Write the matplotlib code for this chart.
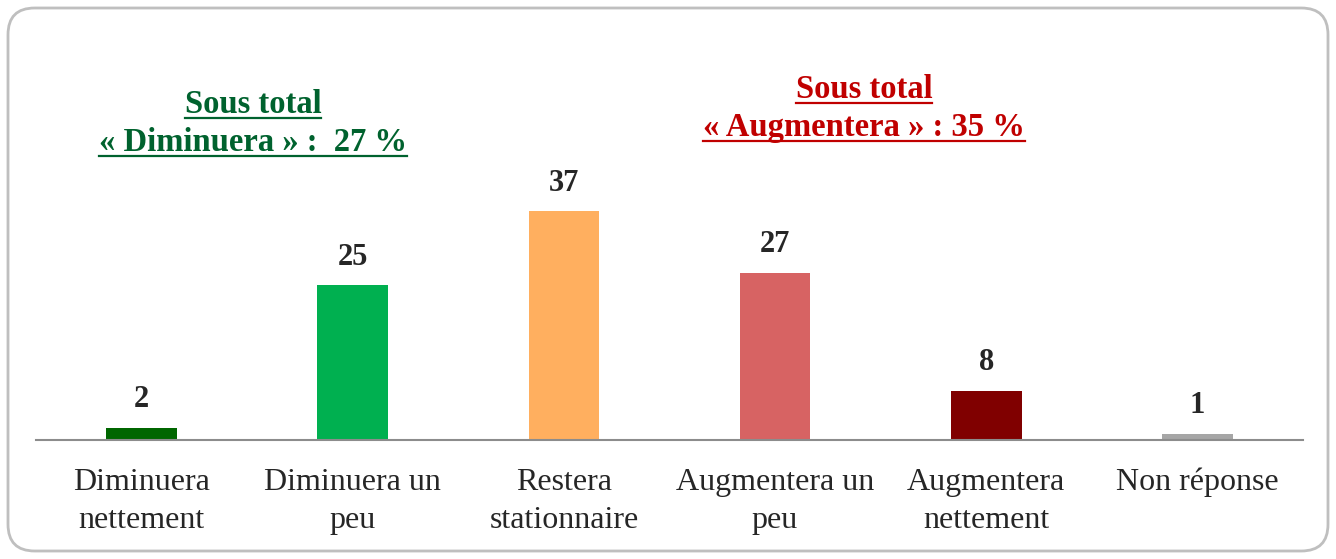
import matplotlib
matplotlib.use('Agg')
import matplotlib.pyplot as plt
from matplotlib.patches import FancyBboxPatch
from matplotlib.lines import Line2D

plt.rcParams['font.family'] = ['Liberation Serif', 'DejaVu Serif']

categories = ['Diminuera\nnettement', 'Diminuera un\npeu', 'Restera\nstationnaire',
              'Augmentera un\npeu', 'Augmentera\nnettement', 'Non réponse']
values = [2, 25, 37, 27, 8, 1]
colors = ['#006600', '#00B050', '#FFAF5F', '#D76363', '#800000', '#A6A6A6']

green_title = ['Sous total', '« Diminuera » :  27 %']
red_title = ['Sous total', '« Augmentera » : 35 %']

W, H = 1336, 559
fig = plt.figure(figsize=(W / 100, H / 100), dpi=100)

# rounded frame around the whole chart
frame = FancyBboxPatch((8 / W, 8 / H), 1320 / W, 543 / H,
                       boxstyle='round,pad=0,rounding_size=0.02',
                       transform=fig.transFigure, facecolor='none',
                       edgecolor='#BFBFBF', linewidth=2, mutation_aspect=W / H,
                       zorder=-1)
fig.patches.append(frame)

ax = fig.add_axes([36 / W, (H - 440) / H, 1267 / W, 371 / H])
ax.patch.set_alpha(0)
x = range(len(values))
bars = ax.bar(x, values, width=0.335, color=colors)
ax.set_xlim(-0.5, len(values) - 0.5)
ax.set_ylim(0, 60)

for xi, v in zip(x, values):
    ax.text(xi, v + 2.2, str(v), ha='center', va='bottom', fontsize=22,
            fontweight='bold', color='#262626')

for s in ['top', 'right', 'left']:
    ax.spines[s].set_visible(False)
ax.spines['bottom'].set_color('#8C8C8C')
ax.spines['bottom'].set_linewidth(1.5)
ax.set_yticks([])
ax.set_xticks(list(x))
ax.set_xticklabels(categories, fontsize=23, color='#262626', linespacing=1.4)
ax.tick_params(axis='x', length=0, pad=20)

# titles, drawn line by line so each can be underlined
title_texts = []
for lines, cx, baselines, col in [(green_title, 253, [113, 151], '#00622E'),
                                  (red_title, 864, [98, 136], '#C00000')]:
    for line, by in zip(lines, baselines):
        t = fig.text(cx / W, (H - by) / H, line, ha='center', va='baseline',
                     fontsize=23.5, fontweight='bold', color=col)
        title_texts.append((t, by, col))

fig.canvas.draw()
for t, by, col in title_texts:
    bb = t.get_window_extent()
    yline = (H - by - 5) / H
    fig.add_artist(Line2D([bb.x0 / W, bb.x1 / W], [yline, yline],
                          transform=fig.transFigure, color=col, linewidth=1.6))

fig.savefig('out.png', dpi=100)
